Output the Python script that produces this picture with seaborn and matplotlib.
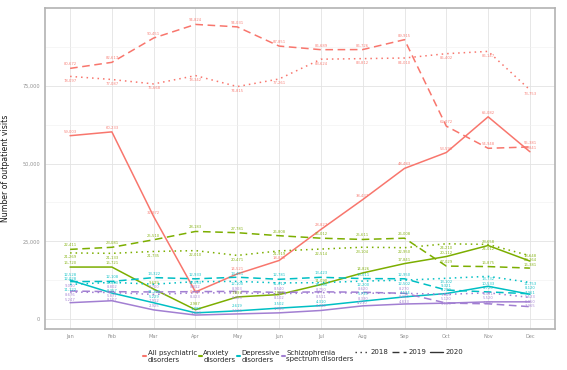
import matplotlib
matplotlib.use("Agg")
import matplotlib.pyplot as plt
from matplotlib.lines import Line2D
import seaborn as sns
import pandas as pd

months = ["Jan", "Feb", "Mar", "Apr", "May", "Jun", "Jul", "Aug", "Sep", "Oct", "Nov", "Dec"]
categories = ["All psychiatric\ndisorders", "Anxiety\ndisorders", "Depressive\ndisorders",
              "Schizophrenia\nspectrum disorders"]
years = ["2018", "2019", "2020"]

all_2018 = [78097, 77087, 75668, 78342, 74815, 77261, 83624, 83812, 84010, 85402, 86147, 73753]
all_2019 = [80672, 82617, 90451, 94824, 94031, 87851, 86689, 86726, 89915, 62072, 54948, 55381]
all_2020 = [59003, 60233, 32972, 8712, 14521, 18838, 28827, 38437, 48483, 53591, 65082, 53841]

anx_2018 = [21269, 21133, 21735, 22010, 20471, 21919, 22514, 23104, 22950, 24210, 24012, 20364]
anx_2019 = [22411, 23081, 25510, 28183, 27781, 26808, 26012, 25611, 26008, 17029, 16875, 16381]
anx_2020 = [16720, 16721, 9629, 2987, 7097, 7868, 11090, 14826, 17841, 20112, 23658, 18648]

dep_2018 = [11122, 11800, 11200, 12033, 12100, 11612, 11700, 12200, 12502, 13102, 13732, 11753]
dep_2019 = [12028, 12108, 13322, 12933, 13451, 12781, 13423, 13011, 12950, 9321, 8720, 8120]
dep_2020 = [12528, 8357, 5229, 1980, 2619, 3502, 4310, 5735, 7124, 8200, 10533, 7961]

sch_2018 = [8676, 8507, 7912, 8423, 8403, 8102, 8511, 8330, 8260, 7940, 8431, 6950]
sch_2019 = [9010, 8802, 8700, 8812, 8903, 8540, 8750, 8620, 8270, 5120, 4890, 3965]
sch_2020 = [5247, 5877, 2925, 1268, 1636, 1980, 2744, 4230, 4833, 5105, 5520, 5523]

series = {
    (categories[0], "2018"): all_2018, (categories[0], "2019"): all_2019, (categories[0], "2020"): all_2020,
    (categories[1], "2018"): anx_2018, (categories[1], "2019"): anx_2019, (categories[1], "2020"): anx_2020,
    (categories[2], "2018"): dep_2018, (categories[2], "2019"): dep_2019, (categories[2], "2020"): dep_2020,
    (categories[3], "2018"): sch_2018, (categories[3], "2019"): sch_2019, (categories[3], "2020"): sch_2020,
}

rows = []
for (cat, yr), vals in series.items():
    for i, v in enumerate(vals):
        rows.append({"month": i, "visits": v, "category": cat, "year": yr})
df = pd.DataFrame(rows)

colors = ["#F8766D", "#7CAE00", "#00BFC4", "#A27FD2"]
palette = dict(zip(categories, colors))
dashes = {"2018": (1, 2.6), "2019": (5, 3), "2020": ""}

sns.set_style("white")
plt.rcParams["font.family"] = ["DejaVu Sans"]

fig = plt.figure(figsize=(5.67, 3.70), dpi=100)
ax = fig.add_axes([45 / 567, 1 - 329 / 370, 510 / 567, 321 / 370])

sns.lineplot(data=df, x="month", y="visits", hue="category", style="year",
             palette=palette, dashes=dashes, hue_order=categories, style_order=years,
             linewidth=1.1, legend=False, ax=ax, sort=False)

ylim = (-3219, 100107)
ax.set_xlim(-0.6, 11.6)
ax.set_ylim(*ylim)

# data labels with a simple vertical repel per month
px_per_unit = 321 / (ylim[1] - ylim[0])
pref = {"2018": -4.5, "2019": 4.0, "2020": 4.0}
sep = 4.4
for i in range(len(months)):
    items = []
    for (cat, yr), vals in series.items():
        v = vals[i]
        p = v * px_per_unit
        items.append([p + pref[yr], p, v, palette[cat]])
    items.sort(key=lambda t: t[0])
    for _ in range(200):
        moved = False
        for j in range(1, len(items)):
            gap = items[j][0] - items[j - 1][0]
            if gap < sep:
                d = (sep - gap) / 2 + 0.01
                items[j][0] += d
                items[j - 1][0] -= d
                moved = True
        if not moved:
            break
    for lab_px, p, v, c in items:
        ax.annotate(f"{v:,}", (i, v), xytext=(0, (lab_px - p) * 0.72), textcoords="offset points",
                    ha="center", va="center", fontsize=2.7, color=c, alpha=0.9)

ax.set_xticks(range(len(months)))
ax.set_xticklabels(months)
ax.set_yticks([0, 25000, 50000, 75000])
ax.set_yticklabels(["0", "25,000", "50,000", "75,000"])
ax.set_yticks([12500, 37500, 62500, 87500], minor=True)
ax.grid(True, which="major", color="#E3E3E3", linewidth=0.6)
ax.grid(True, which="minor", axis="y", color="#F0F0F0", linewidth=0.4)
ax.set_axisbelow(True)
ax.tick_params(axis="both", which="major", labelsize=3.6, colors="#909090",
               length=2, width=0.5, pad=1.5)
ax.tick_params(axis="both", which="minor", length=0)
for s in ax.spines.values():
    s.set_color("#B3B3B3")
    s.set_linewidth(1.2)
ax.set_xlabel("")
ax.set_ylabel("Number of outpatient visits", fontsize=5.6, labelpad=9, color="#1A1A1A")

# legends
h_col = [Line2D([], [], color=c, lw=1.5) for c in colors]
fig.legend(h_col, categories, loc="center left", bbox_to_anchor=(143 / 567, 1 - 356 / 370),
           ncol=4, frameon=False, fontsize=5.0, handlelength=0.45, handletextpad=0.25,
           columnspacing=0.2, borderaxespad=0, borderpad=0)
h_yr = [Line2D([], [], color="#333333", lw=1.0, dashes=(1, 2.6)),
        Line2D([], [], color="#333333", lw=1.0, dashes=(5, 3)),
        Line2D([], [], color="#333333", lw=1.0)]
fig.legend(h_yr, years, loc="center left", bbox_to_anchor=(355 / 567, 1 - 352 / 370),
           ncol=3, frameon=False, fontsize=5.0, handlelength=1.9, handletextpad=0.4,
           columnspacing=0.5, borderaxespad=0, borderpad=0)

fig.savefig("out.png", dpi=100, facecolor="white")
